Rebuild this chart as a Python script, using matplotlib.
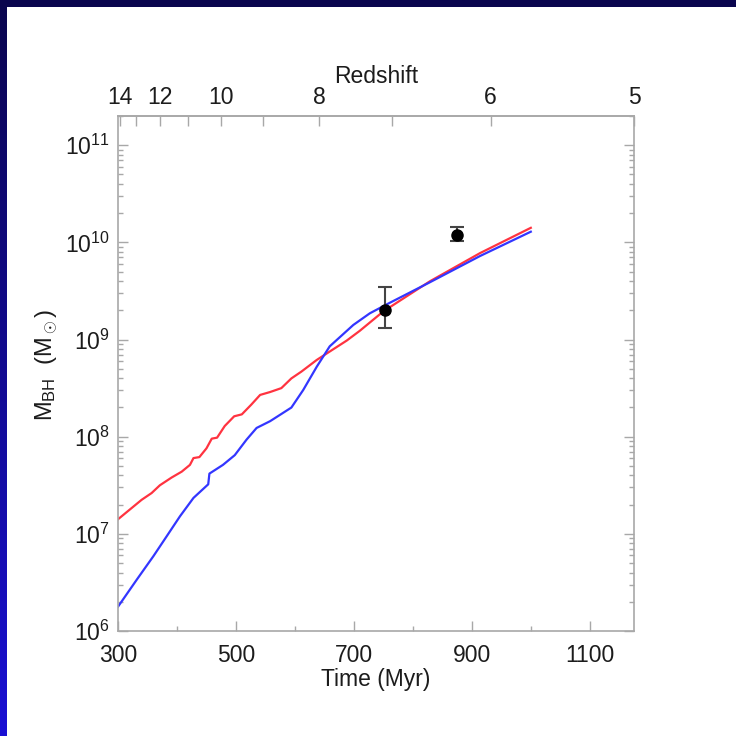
#!/usr/bin/env python3
"""Black hole mass growth vs cosmic time, with a redshift axis on top."""
import matplotlib
matplotlib.use("Agg")
import matplotlib.pyplot as plt
import numpy as np
from matplotlib.patches import Rectangle
from matplotlib.ticker import FixedLocator, NullFormatter, NullLocator

# red track: time (Myr), M_BH (Msun)
red_t = [300, 326, 340, 357, 371, 391, 408, 422, 428, 438, 450, 459, 468,
         481, 497, 510, 526, 541, 558, 577, 594, 611, 637, 665, 688, 710,
         750, 829, 914, 1000]
red_logm = [7.15, 7.28, 7.35, 7.42, 7.50, 7.58, 7.64, 7.71, 7.78, 7.79,
            7.88, 7.98, 7.99, 8.11, 8.21, 8.23, 8.33, 8.43, 8.46, 8.50,
            8.60, 8.67, 8.79, 8.90, 8.99, 9.09, 9.29, 9.60, 9.89, 10.15]

# blue track
blue_t = [300, 332, 360, 382, 405, 428, 453, 455, 478, 498, 518, 535, 558,
          594, 614, 637, 659, 679, 699, 727, 755, 829, 914, 1000]
blue_logm = [6.25, 6.53, 6.77, 6.97, 7.18, 7.37, 7.51, 7.62, 7.71, 7.81,
             7.97, 8.09, 8.16, 8.30, 8.48, 8.72, 8.93, 9.04, 9.15, 9.27,
             9.36, 9.59, 9.86, 10.11]

# observed quasars
obs_t = [752, 875]
obs_m = [2.0e9, 1.2e10]
obs_lo = [1.32e9, 1.03e10]
obs_hi = [3.5e9, 1.43e10]

# bottom axis ticks
t_major = [300, 500, 700, 900, 1100]
t_minor = [400, 600, 800, 1000]

# redshift ticks on top axis (time in Myr at each z)
z_vals = [14, 13, 12, 11, 10, 9, 8, 7, 6, 5]
z_time = [303, 330, 371, 419, 475, 546, 641, 764, 932, 1175]
z_labels = ["14", "", "12", "", "10", "", "8", "", "6", "5"]

FS = 16.5
GRAY = "#a8a8a8"
INK = "#1c1c1c"


def main():
    plt.rcParams["font.family"] = ["Liberation Sans", "DejaVu Sans"]
    plt.rcParams["mathtext.fontset"] = "custom"
    plt.rcParams["mathtext.rm"] = "Liberation Sans"
    plt.rcParams["mathtext.it"] = "Liberation Sans:italic"

    fig = plt.figure(figsize=(7.36, 7.36), dpi=100)

    # slide background: navy -> blue gradient with white panel
    bg = fig.add_axes([0, 0, 1, 1], zorder=-10)
    top = np.array([0x0a, 0x05, 0x4e]) / 255.0
    bot = np.array([0x1a, 0x10, 0xd4]) / 255.0
    f = np.linspace(0, 1, 256)[:, None]
    grad = top[None, :] * (1 - f) + bot[None, :] * f
    bg.imshow(grad[:, None, :], aspect="auto", extent=[0, 1, 0, 1])
    bg.add_patch(Rectangle((7 / 736, 0), 1, (736 - 7) / 736,
                           facecolor="white", edgecolor="none"))
    bg.set_xlim(0, 1)
    bg.set_ylim(0, 1)
    bg.axis("off")

    ax = fig.add_axes([118 / 736, 105 / 736, 516 / 736, 515 / 736])
    ax.set_facecolor("none")

    ax.plot(red_t, 10 ** np.array(red_logm), color="#ff3340", lw=1.6)
    ax.plot(blue_t, 10 ** np.array(blue_logm), color="#3336ff", lw=1.6)

    m = np.array(obs_m)
    yerr = [m - np.array(obs_lo), np.array(obs_hi) - m]
    ax.errorbar(obs_t, obs_m, yerr=yerr, fmt="o", color="black",
                ecolor="#444444", elinewidth=1.5, capsize=5, capthick=1.5,
                markersize=8, zorder=5)

    ax.set_yscale("log")
    ax.set_xlim(300, 1175)
    ax.set_ylim(1e6, 2.0e11)

    ax.xaxis.set_major_locator(FixedLocator(t_major))
    ax.xaxis.set_minor_locator(FixedLocator(t_minor))
    decades = 10.0 ** np.arange(6, 12)
    ax.yaxis.set_major_locator(FixedLocator(decades))
    minors = [d * k for d in decades for k in range(2, 10)]
    ax.yaxis.set_minor_locator(FixedLocator(minors))
    ax.yaxis.set_minor_formatter(NullFormatter())

    for sp in ax.spines.values():
        sp.set_color(GRAY)
        sp.set_linewidth(1.2)

    ax.tick_params(which="both", direction="in", color=GRAY, width=1.0,
                   labelcolor=INK, labelsize=FS, top=False, right=True)
    ax.tick_params(which="major", length=7.5)
    ax.tick_params(which="minor", length=3.8)
    ax.tick_params(axis="x", pad=9)
    ax.tick_params(axis="y", pad=6)

    ax.set_xlabel("Time (Myr)", fontsize=FS, color=INK, labelpad=1)
    ax.set_ylabel(r"M$_{\mathdefault{BH}}$  (M$_\odot$)",
                  fontsize=17, color=INK)
    ax.yaxis.set_label_coords(-0.112, 0.517)

    sec = ax.secondary_xaxis("top")
    sec.set_xticks(z_time, z_labels)
    sec.xaxis.set_minor_locator(NullLocator())
    sec.tick_params(direction="in", length=7.0, color=GRAY, width=1.0,
                    labelcolor=INK, labelsize=FS, pad=5)
    sec.spines["top"].set_color(GRAY)
    sec.spines["top"].set_linewidth(1.2)
    sec.set_xlabel("Redshift", fontsize=FS, color=INK, labelpad=2)

    fig.savefig("out.png", dpi=100)


if __name__ == "__main__":
    main()
